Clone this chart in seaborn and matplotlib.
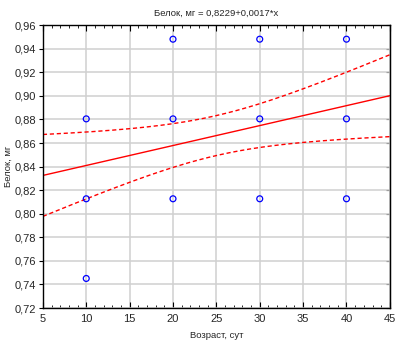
import matplotlib
matplotlib.use("Agg")
import matplotlib.pyplot as plt
import matplotlib.ticker as mticker
import numpy as np
import pandas as pd
import seaborn as sns

# age groups (days) and protein readings; repeated values overlap on the chart
age_10 = [10] * 12
prot_10 = [0.7451] * 3 + [0.8127] * 4 + [0.8805] * 5
age_20 = [20] * 12
prot_20 = [0.8127] * 4 + [0.8805] * 4 + [0.9481] * 4
age_30 = [30] * 12
prot_30 = [0.8127] * 4 + [0.8805] * 4 + [0.9481] * 4
age_40 = [40] * 12
prot_40 = [0.8127] * 4 + [0.8805] * 4 + [0.9481] * 4

title = "Белок, мг = 0,8229+0,0017*x"
x_label = "Возраст, сут"
y_label = "Белок, мг"
x_range = [5, 45]
t_975 = 2.013  # Student t, 0.975 quantile, 46 df

df = pd.DataFrame({
    "age": age_10 + age_20 + age_30 + age_40,
    "protein": prot_10 + prot_20 + prot_30 + prot_40,
})

# ordinary least squares with 95% confidence band of the mean
x = df["age"].to_numpy(float)
y = df["protein"].to_numpy(float)
n = len(x)
slope, intercept = np.polyfit(x, y, 1)
resid = y - (intercept + slope * x)
s = np.sqrt((resid ** 2).sum() / (n - 2))
sxx = ((x - x.mean()) ** 2).sum()
xs = np.linspace(x_range[0], x_range[1], 200)
fit = intercept + slope * xs
half = t_975 * s * np.sqrt(1 / n + (xs - x.mean()) ** 2 / sxx)
band = pd.DataFrame({"x": xs, "fit": fit, "lo": fit - half, "hi": fit + half})

sns.set_style("white")
plt.rcParams["font.family"] = ["Liberation Sans", "DejaVu Sans"]

fig = plt.figure(figsize=(3.97, 3.40), dpi=100)
ax = fig.add_axes([0.108, 0.094, 0.874, 0.832])

sns.lineplot(data=band, x="x", y="fit", color="#ff0000", lw=1.0, ax=ax)
sns.lineplot(data=band, x="x", y="hi", color="#ff0000", lw=1.0, ls=(0, (3, 2)), ax=ax)
sns.lineplot(data=band, x="x", y="lo", color="#ff0000", lw=1.0, ls=(0, (3, 2)), ax=ax)
# one marker per distinct reading, so overlapping repeats do not thicken the ring
pts = df.drop_duplicates()
sns.scatterplot(data=pts, x="age", y="protein", marker="o", s=18,
                facecolors="none", edgecolor="#0000ff", linewidth=0.9, ax=ax, zorder=5)

ax.set_xlim(*x_range)
ax.set_ylim(0.72, 0.96)
ax.xaxis.set_major_locator(mticker.MultipleLocator(5))
ax.xaxis.set_minor_locator(mticker.MultipleLocator(1))
ax.yaxis.set_major_locator(mticker.MultipleLocator(0.02))
ax.yaxis.set_major_formatter(mticker.FuncFormatter(lambda v, p: f"{v:.2f}".replace(".", ",")))

ax.grid(True, which="major", color="#d0d0d0", lw=1.1)
ax.set_axisbelow(True)
for sp in ax.spines.values():
    sp.set_color("#000000")
    sp.set_linewidth(1.0)

ax.tick_params(axis="x", which="both", direction="in", top=True, bottom=True,
               labelsize=8, color="#000000", pad=4)
ax.tick_params(axis="x", which="major", length=4)
ax.tick_params(axis="x", which="minor", length=2)
ax.tick_params(axis="y", which="major", direction="out", left=True, right=False,
               length=3, labelsize=8, color="#000000", pad=2)

# inward ticks on the right spine
sec = ax.secondary_yaxis("right")
sec.yaxis.set_major_locator(mticker.MultipleLocator(0.02))
sec.tick_params(axis="y", direction="in", length=3, labelright=False, color="#000000")

ax.set_title(title, fontsize=6.8, pad=7)
ax.set_xlabel(x_label, fontsize=6.8, labelpad=5)
ax.set_ylabel(y_label, fontsize=6.8, labelpad=1)

fig.savefig("out.png", dpi=100)
